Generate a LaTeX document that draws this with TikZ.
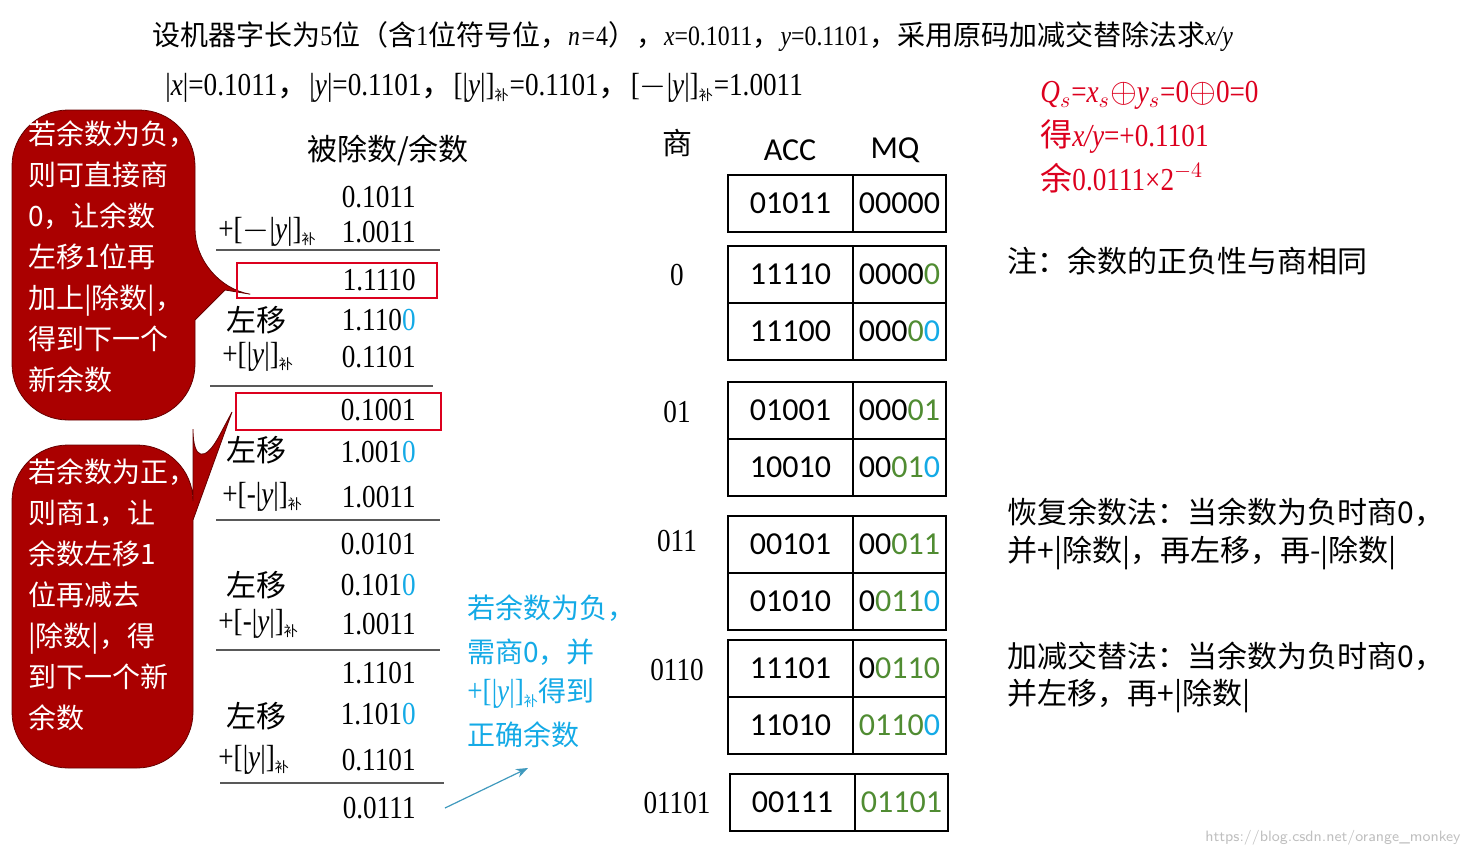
\documentclass[tikz,border=0pt]{standalone}
\usepackage{fontspec}
\setmainfont[FakeStretch=0.85]{Liberation Serif}
\newfontfamily\cjk{Noto Sans CJK SC}
\newfontfamily\calfont{Carlito}
\usetikzlibrary{arrows.meta}
\definecolor{callred}{RGB}{170,0,0}
\definecolor{grn}{RGB}{80,140,50}
\definecolor{cyn}{RGB}{20,170,230}
\definecolor{qred}{RGB}{220,0,30}
\newcommand{\grc}[1]{\textcolor{grn}{#1}}
\newcommand{\cyc}[1]{\textcolor{cyn}{#1}}
\newcommand{\bu}{\ensuremath{_{\hbox{\cjk\scriptsize 补}}}}
\newcommand{\cm}{{\cjk ，}}
\begin{document}
\begin{tikzpicture}[x=0.5pt,y=-0.5pt,
  txt/.style={inner sep=0pt,font=\fontsize{16}{18}\selectfont},
  num/.style={txt,anchor=east},
  lab/.style={txt,anchor=west},
  ctxt/.style={inner sep=0pt,font=\cjk\fontsize{14}{20.5}\selectfont,align=left,anchor=north west,text=white},
  cell/.style={draw,line width=1pt,minimum height=28.5pt,inner sep=0pt,font=\calfont\fontsize{16}{18}\selectfont},
  hl/.style={gray!70!black,line width=0.6pt},
  rbox/.style={draw=qred,line width=1.3pt}]
\useasboundingbox (0,0) rectangle (1472,857);
% title
\node[lab,font=\fontsize{14}{16}\selectfont] (t1) at (152,37) {\cjk 设机器字长为\textrm{5}位（含\textrm{1}位符号位，\textrm{\itshape n=}\textrm{4}），\textrm{\itshape x}\textrm{=0.1011}，\textrm{\itshape y}\textrm{=0.1101}，采用原码加减交替除法求\textrm{\itshape x/y}};
\node[lab] (t2) at (165,88) {|\textit{x}|=0.1011\cm|\textit{y}|=0.1101\cm[|\textit{y}|]\bu=0.1101\cm[$-$|\textit{y}|]\bu=1.0011};
\node[lab,text=qred] (q1) at (1040,95) {\textit{Q$_s$}=\textit{x$_s$}$\oplus$\textit{y$_s$}=0$\oplus$0=0};
\node[lab,text=qred] (q2) at (1040,137) {\cjk 得\textrm{\itshape x/y}\textrm{=+0.1101}};
\node[lab,text=qred] (q3) at (1040,178) {\cjk 余\textrm{0.0111×2$^{-4}$}};
% callouts
\draw[fill=callred,draw=callred!60!black,rounded corners=28pt] (12,110) -- (195,110) -- (195,285) [sharp corners]-- (225,290) -- (195,320) [rounded corners=28pt]-- (195,420) -- (12,420) -- cycle;
\node[ctxt] (c1) at (28,120) {若余数为负，\\则可直接商\\0，让余数\\左移1位再\\加上|除数|，\\得到下一个\\新余数};
\draw[fill=callred,draw=callred!60!black,rounded corners=28pt] (12,445) -- (193,445) -- (193,485) [sharp corners]-- (232,412) -- (193,520) [rounded corners=28pt]-- (193,768) -- (12,768) -- cycle;
\node[ctxt] (c2) at (28,458) {若余数为正，\\则商1，让\\余数左移1\\位再减去\\|除数|，得\\到下一个新\\余数};
% left column
\node[txt,font=\cjk\fontsize{15}{18}\selectfont] (h1) at (388,150) {被除数/余数};
\node[num] (n1) at (416,197) {0.1011};
\node[num] (n2) at (416,232) {1.0011};
\node[num] (n3) at (416,280) {1.1110};
\node[num] (n4) at (416,320) {1.110\cyc{0}};
\node[num] (n5) at (416,357) {0.1101};
\node[num] (n6) at (416,410) {0.1001};
\node[num] (n7) at (416,452) {1.001\cyc{0}};
\node[num] (n8) at (416,497) {1.0011};
\node[num] (n9) at (416,544) {0.0101};
\node[num] (n10) at (416,585) {0.101\cyc{0}};
\node[num] (n11) at (416,624) {1.0011};
\node[num] (n12) at (416,673) {1.1101};
\node[num] (n13) at (416,714) {1.101\cyc{0}};
\node[num] (n14) at (416,760) {0.1101};
\node[num] (n15) at (416,808) {0.0111};
\node[lab] (l1) at (218,232) {+[$-$|\textit{y}|]\bu};
\node[lab,font=\cjk\fontsize{15}{18}\selectfont] (l2) at (226,320) {左移};
\node[lab] (l3) at (222,357) {+[|\textit{y}|]\bu};
\node[lab,font=\cjk\fontsize{15}{18}\selectfont] (l4) at (226,450) {左移};
\node[lab] (l5) at (222,497) {+[-|\textit{y}|]\bu};
\node[lab,font=\cjk\fontsize{15}{18}\selectfont] (l6) at (226,585) {左移};
\node[lab] (l7) at (218,624) {+[-|\textit{y}|]\bu};
\node[lab,font=\cjk\fontsize{15}{18}\selectfont] (l8) at (226,716) {左移};
\node[lab] (l9) at (218,760) {+[|\textit{y}|]\bu};
\draw[hl] (216,250) -- (440,250);
\draw[hl] (210,386) -- (433,386);
\draw[hl] (216,520) -- (440,520);
\draw[hl] (216,650) -- (440,650);
\draw[hl] (220,783) -- (444,783);
\draw[rbox] (237,263) rectangle (437,298);
\draw[rbox] (236,393) rectangle (441,430);
% blue note
\node[ctxt,text=cyn,anchor=west] (b1) at (467,608) {若余数为负，};
\node[ctxt,text=cyn,anchor=west] (b2) at (467,652) {需商0，并};
\node[ctxt,text=cyn,anchor=west] (b3) at (467,693) {\textrm{\fontsize{16}{18}\selectfont +[|\textit{y}|]\bu}得到};
\node[ctxt,text=cyn,anchor=west] (b4) at (467,735) {正确余数};
\coordinate (a0) at (445,808);
\coordinate (a1) at (528,768);
\draw[-{Stealth[length=6pt]},cyn!60!gray,line width=0.6pt] (a0) -- (a1);
% quotient
\node[txt,font=\cjk\fontsize{15}{18}\selectfont] (s) at (677,143) {商};
\node[txt] (s1) at (677,275) {0};
\node[txt] (s2) at (677,412) {01};
\node[txt] (s3) at (677,541) {011};
\node[txt] (s4) at (677,670) {0110};
\node[txt] (s5) at (677,803) {01101};
\node[txt,font=\calfont\fontsize{16}{18}\selectfont] (acc) at (790,150) {ACC};
\node[txt,font=\calfont\fontsize{16}{18}\selectfont] (mq) at (895,150) {MQ};
% table
\newcommand{\tabrow}[5]{%
 \node[cell,minimum width=62.5pt,anchor=north west] (#1a) at (#2,#3) {#4};
 \node[cell,minimum width=46.5pt,anchor=north west] (#1b) at (#2+125,#3) {#5};}
\tabrow{r1}{727}{174}{01011}{00000}
\tabrow{r2}{727}{245}{11110}{0000\grc{0}}
\tabrow{r3}{727}{302}{11100}{000\grc{0}\cyc{0}}
\tabrow{r4}{727}{381}{01001}{000\grc{01}}
\tabrow{r5}{727}{438}{10010}{00\grc{01}\cyc{0}}
\tabrow{r6}{727}{515}{00101}{00\grc{011}}
\tabrow{r7}{727}{572}{01010}{0\grc{011}\cyc{0}}
\tabrow{r8}{727}{639}{11101}{0\grc{0110}}
\tabrow{r9}{727}{696}{11010}{\grc{0110}\cyc{0}}
\tabrow{r10}{729}{773}{00111}{\grc{01101}}
% notes
\node[lab,font=\cjk\fontsize{15}{18}\selectfont] (z1) at (1007,261) {注：余数的正负性与商相同};
\node[lab,font=\cjk\fontsize{15}{18}\selectfont] (z2) at (1007,512) {恢复余数法：当余数为负时商0，};
\node[lab,font=\cjk\fontsize{15}{18}\selectfont] (z3) at (1007,553) {并+|除数|，再左移，再-|除数|};
\node[lab,font=\cjk\fontsize{15}{18}\selectfont] (z4) at (1007,656) {加减交替法：当余数为负时商0，};
\node[lab,font=\cjk\fontsize{15}{18}\selectfont] (z5) at (1007,696) {并左移，再+|除数|};
\node[lab,text=gray!50,font=\fontsize{7.5}{9}\selectfont\sffamily] (w) at (1205,838) {https://blog.csdn.net/orange\_monkey};
\end{tikzpicture}
\end{document}
